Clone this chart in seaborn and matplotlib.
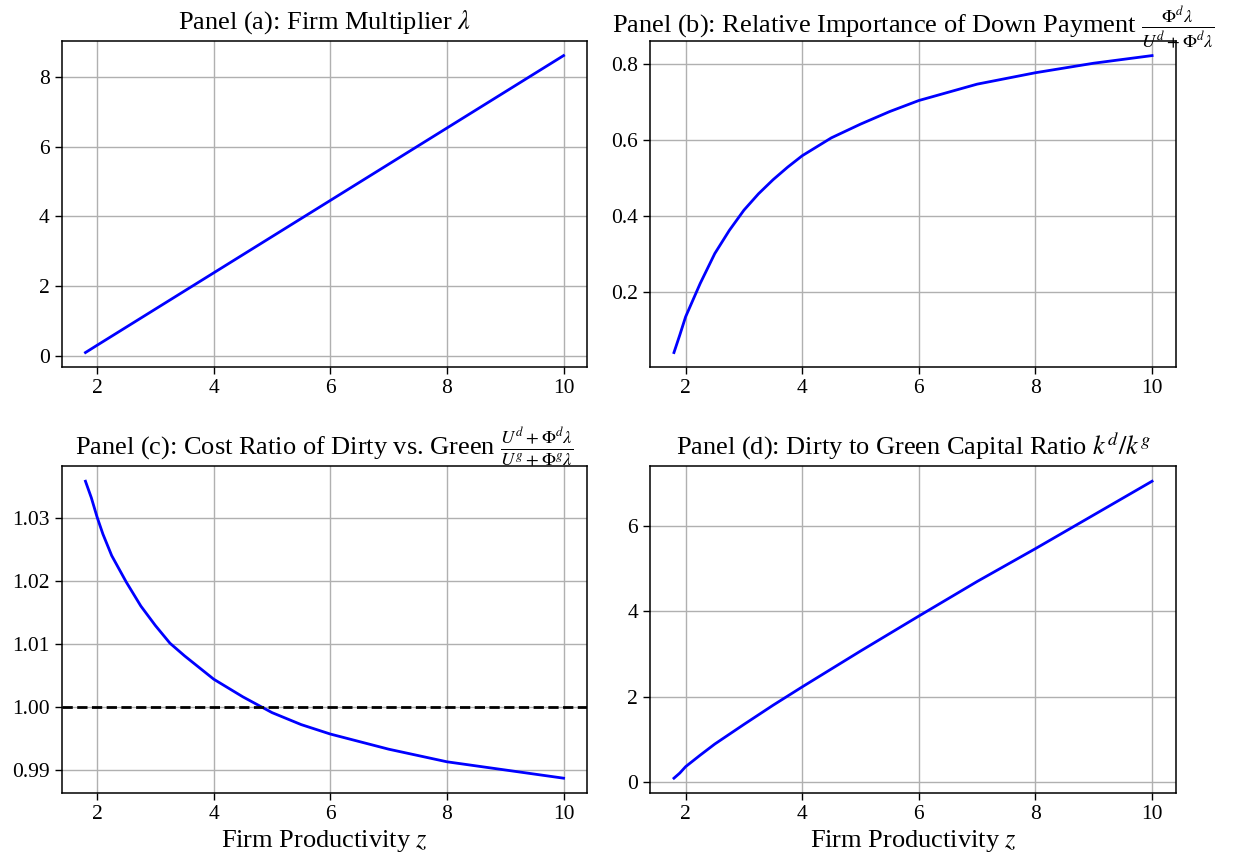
import numpy as np
import pandas as pd
import matplotlib
matplotlib.use("Agg")
import matplotlib.pyplot as plt
import seaborn as sns

plt.rcParams['font.family'] = ['Liberation Serif', 'DejaVu Serif']
plt.rcParams['mathtext.fontset'] = 'stix'

# Firm productivity grids and the model outputs along them
z_lambda = [1.8, 2.0, 4.0, 6.0, 8.0, 10.0]
firm_multiplier = [0.09, 0.30, 2.38, 4.46, 6.54, 8.62]

z_down = [1.8, 1.9, 2.0, 2.1, 2.25, 2.5, 2.75, 3.0, 3.25, 3.5, 3.75, 4.0,
          4.5, 5.0, 5.5, 6.0, 7.0, 8.0, 9.0, 10.0]
down_payment_share = [0.042, 0.088, 0.136, 0.171, 0.2235, 0.302, 0.363, 0.416,
                      0.459, 0.496, 0.529, 0.559, 0.606, 0.642, 0.675, 0.704,
                      0.747, 0.777, 0.802, 0.822]

z_cost = [1.8, 1.9, 2.0, 2.1, 2.25, 2.5, 2.75, 3.0, 3.25, 3.5, 4.0, 4.5,
          5.0, 5.5, 6.0, 7.0, 8.0, 9.0, 10.0]
cost_ratio = [1.0358, 1.0332, 1.0301, 1.0274, 1.0240, 1.0198, 1.0160, 1.0129,
              1.0101, 1.0081, 1.0044, 1.0016, 0.9991, 0.9972, 0.9957, 0.9933,
              0.9913, 0.9900, 0.9887]
parity_level = 1.0

z_capital = [1.8, 1.9, 2.0, 2.25, 2.5, 3.0, 3.5, 4.0, 4.5, 5.0, 5.5, 6.0,
             7.0, 8.0, 9.0, 10.0]
capital_ratio = [0.09, 0.21, 0.36, 0.63, 0.89, 1.35, 1.80, 2.23, 2.65, 3.07,
                 3.48, 3.89, 4.70, 5.47, 6.26, 7.05]

titles = [
    r"Panel (a): Firm Multiplier $\lambda$",
    r"Panel (b): Relative Importance of Down Payment $\frac{\Phi^d\lambda}{U^d+\Phi^d\lambda}$",
    r"Panel (c): Cost Ratio of Dirty vs. Green $\frac{U^d+\Phi^d\lambda}{U^g+\Phi^g\lambda}$",
    r"Panel (d): Dirty to Green Capital Ratio $k^d/k^g$",
]
# baseline anchor of each title, in axes fraction
title_y = [1.011, 1.0, 1.011, 1.012]
xlabel = r"Firm Productivity $z$"
yticks = [[0, 2, 4, 6, 8], [0.2, 0.4, 0.6, 0.8],
          [0.99, 1.00, 1.01, 1.02, 1.03], [0, 2, 4, 6]]

series = [
    pd.DataFrame({"z": z_lambda, "v": firm_multiplier}),
    pd.DataFrame({"z": z_down, "v": down_payment_share}),
    pd.DataFrame({"z": z_cost, "v": cost_ratio}),
    pd.DataFrame({"z": z_capital, "v": capital_ratio}),
]

fig, axes = plt.subplots(2, 2, figsize=(12.41, 8.65), dpi=100)
fig.subplots_adjust(left=0.0496, right=0.9476, bottom=0.0832, top=0.9529,
                    wspace=0.119, hspace=0.303)

for i, (ax, df, title) in enumerate(zip(axes.flat, series, titles)):
    sns.lineplot(data=df, x="z", y="v", ax=ax, color="blue", linewidth=2)
    if i == 2:
        ax.axhline(parity_level, color="black", linestyle="--", linewidth=2)
    ax.set_yticks(yticks[i])
    if i == 2:
        ax.set_yticklabels([f"{t:.2f}" for t in yticks[i]])
    ax.set_xticks([2, 4, 6, 8, 10])
    ax.set_title(title, fontsize=19, pad=6, y=title_y[i])
    ax.grid(True, color="#b0b0b0", linewidth=1.0)
    ax.set_axisbelow(True)
    ax.set_ylabel("")
    if i >= 2:
        ax.set_xlabel(xlabel, fontsize=19, labelpad=3)
    else:
        ax.set_xlabel("")
    ax.tick_params(labelsize=15.5, length=5, width=1, direction="out")
    for sp in ax.spines.values():
        sp.set_color("black")
        sp.set_linewidth(1.1)

fig.savefig("out.png", dpi=100)
